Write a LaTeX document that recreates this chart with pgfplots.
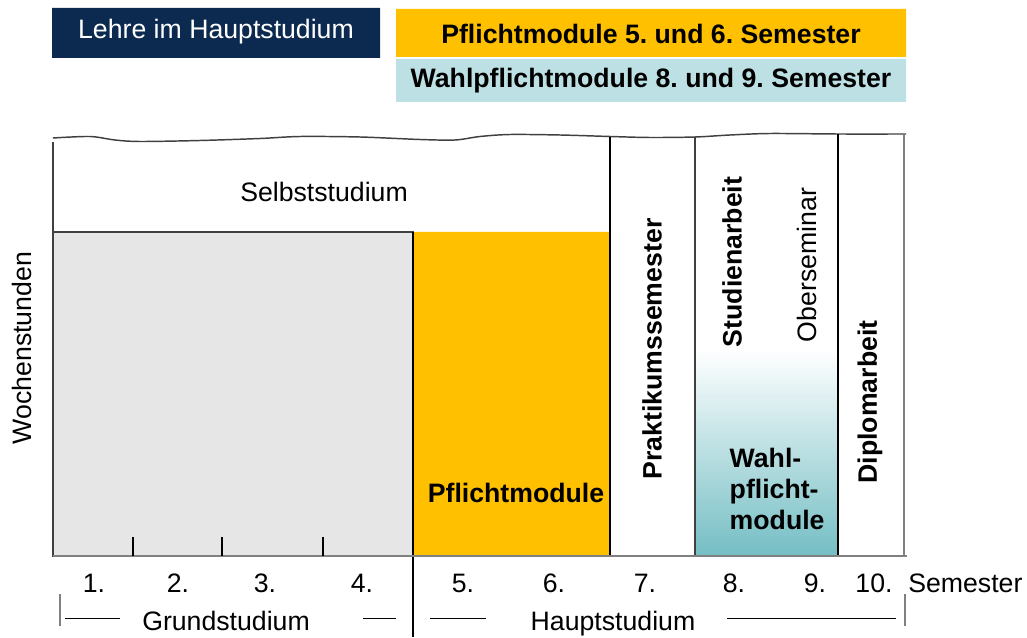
\documentclass[border=0pt]{standalone}
\usepackage{fontspec}
\setmainfont{Liberation Sans}
\usepackage{pgfplots}
\pgfplotsset{compat=1.18}
\definecolor{navy}{HTML}{0C2A50}
\definecolor{gold}{HTML}{FFC000}
\definecolor{lteal}{HTML}{BCE0E3}
\definecolor{dteal}{HTML}{74BEC4}
\definecolor{lgray}{HTML}{E6E6E6}
\definecolor{lin}{HTML}{404040}
\frenchspacing
\begin{document}
\begin{tikzpicture}[font=\fontsize{20}{23}\selectfont]
\begin{axis}[
  width=770.25pt, height=477.75pt, scale only axis,
  xmin=0, xmax=1027, ymin=0, ymax=637, y dir=reverse,
  hide axis, clip=false,
]
\addplot[draw=none] coordinates {(0,0) (1027,637)};
% header boxes
\addplot[fill=navy, draw=none] coordinates {(52,8) (380,8) (380,58) (52,58) (52,8)};
\addplot[fill=gold, draw=none] coordinates {(396,9) (906,9) (906,57) (396,57) (396,9)};
\addplot[fill=lteal, draw=none] coordinates {(396,59) (906,59) (906,102) (396,102) (396,59)};
\node[text=white] at (axis cs:216,32) {Lehre im Hauptstudium};
\node[font=\fontsize{20}{23}\selectfont\bfseries] at (axis cs:651,34) {Pflichtmodule 5. und 6. Semester};
\node[font=\fontsize{20}{23}\selectfont\bfseries] at (axis cs:651,81) {Wahlpflichtmodule 8. und 9. Semester};
% filled areas
\addplot[fill=lgray, draw=lin, line width=0.9pt] coordinates {(53,232) (413,232) (413,556) (53,556) (53,232)};
\addplot[fill=gold, draw=none] coordinates {(413,232) (610,232) (610,556) (413,556) (413,232)};
\addplot[top color=white, bottom color=dteal, draw=none] coordinates {(695,350) (838,350) (838,556) (695,556) (695,350)};
% wavy top
\addplot[lin, line width=1.1pt, smooth] coordinates {(53,138) (90,136.5) (115,140) (140,141.5) (200,140.5) (260,138.5) (300,136.5) (360,137) (420,139.5) (455,140) (480,136.5) (510,134.5) (560,135) (610,136.5) (650,137.5) (695,137) (730,135) (770,133.5) (838,134) (906,134)};
% vertical lines
\addplot[lin, line width=1pt] coordinates {(53,142) (53,556)};
\addplot[black, line width=0.8pt] coordinates {(413,232) (413,637)};
\addplot[black, line width=0.8pt] coordinates {(610,137) (610,556)};
\addplot[lin, line width=1pt] coordinates {(695,137) (695,556)};
\addplot[black, line width=0.8pt] coordinates {(838,134) (838,556)};
\addplot[gray, line width=1.3pt] coordinates {(904,134) (904,556)};
% bottom axis
\addplot[gray, line width=1.4pt] coordinates {(53,556) (907,556)};
% small ticks
\addplot[black, line width=0.8pt] coordinates {(133,537) (133,556)};
\addplot[black, line width=0.8pt] coordinates {(222,537) (222,556)};
\addplot[black, line width=0.8pt] coordinates {(323,537) (323,556)};
% texts in chart
\node at (axis cs:324,192) {Selbststudium};
\node[rotate=90] at (axis cs:22,348) {Wochenstunden};
\node[font=\fontsize{20}{23}\selectfont\bfseries] at (axis cs:516,493) {Pflichtmodule};
\node[rotate=90, font=\fontsize{20}{23}\selectfont\bfseries] at (axis cs:652,349) {Praktikumssemester};
\node[rotate=90, font=\fontsize{20}{23}\selectfont\bfseries] at (axis cs:732,262) {Studienarbeit};
\node[rotate=90] at (axis cs:807,265) {Oberseminar};
\node[rotate=90, font=\fontsize{20}{23}\selectfont\bfseries] at (axis cs:870,402) {Diplomarbeit};
\node[align=left, anchor=west, font=\fontsize{20}{23.5}\selectfont\bfseries] at (axis cs:725,489) {Wahl-\\pflicht-\\module};
% semester labels
\node at (axis cs:94,583) {1.};
\node at (axis cs:178,583) {2.};
\node at (axis cs:265,583) {3.};
\node at (axis cs:362,583) {4.};
\node at (axis cs:463,583) {5.};
\node at (axis cs:554,583) {6.};
\node at (axis cs:645,583) {7.};
\node at (axis cs:734,583) {8.};
\node at (axis cs:815,583) {9.};
\node at (axis cs:874,583) {10.};
\node[anchor=west, inner sep=0pt] at (axis cs:908,583) {Semester};
% bottom brackets
\addplot[gray, line width=0.8pt] coordinates {(60,594) (60,626)};
\addplot[black, line width=0.7pt] coordinates {(65,618) (120,618)};
\node[anchor=base, inner sep=0pt] at (axis cs:226,630) {Grundstudium};
\addplot[black, line width=0.7pt] coordinates {(363,618) (396,618)};
\addplot[black, line width=0.7pt] coordinates {(430,618) (486,618)};
\node[anchor=base, inner sep=0pt] at (axis cs:613,630) {Hauptstudium};
\addplot[black, line width=0.7pt] coordinates {(727,618) (896,618)};
\addplot[gray, line width=0.8pt] coordinates {(905,594) (905,626)};
\end{axis}
\end{tikzpicture}
\end{document}
